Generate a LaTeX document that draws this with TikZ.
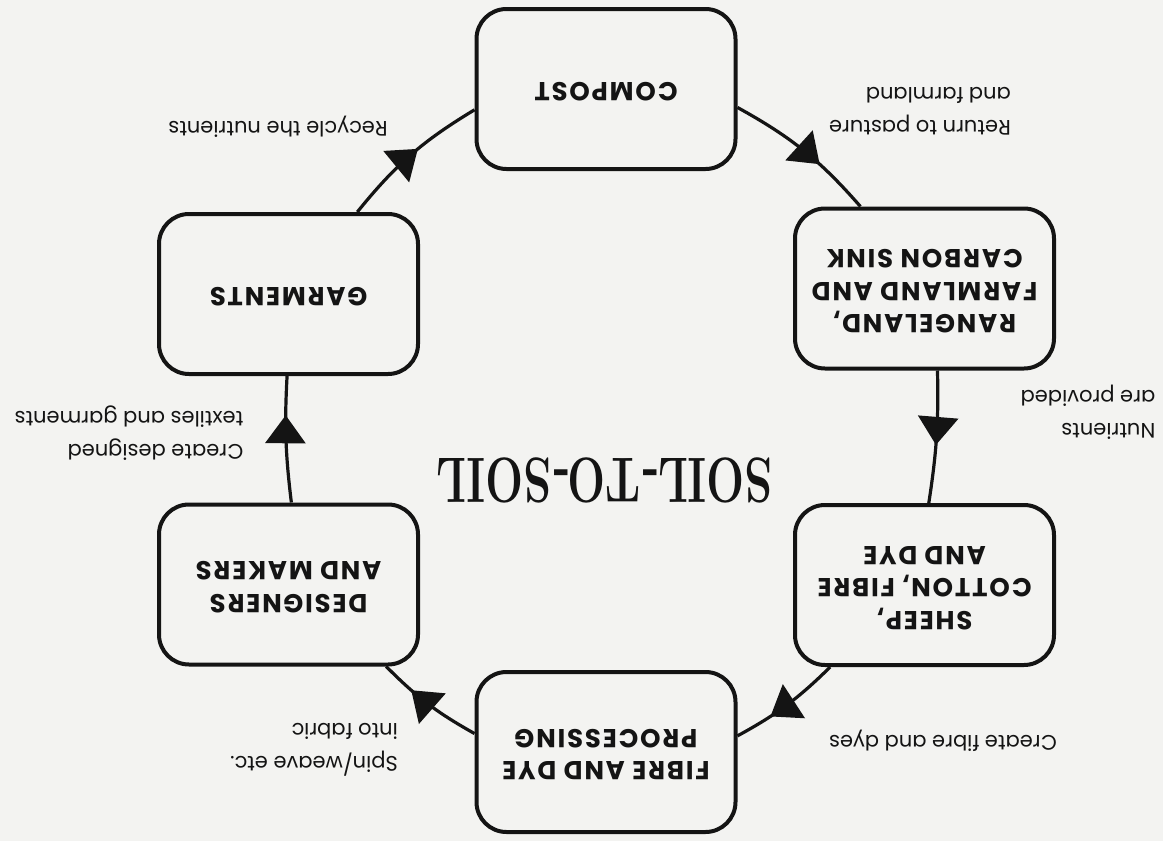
\documentclass[tikz,border=0pt]{standalone}
\usepackage{fontspec}
\usetikzlibrary{arrows.meta,decorations.markings}
\newfontfamily\lblfont{Poppins}
\newfontfamily\boxfont{Poppins}[LetterSpace=7]
\newcommand\flipbox[1]{\rotatebox[origin=c]{180}{\begin{tabular}{@{}c@{}}#1\end{tabular}}}
\definecolor{bgcol}{RGB}{243,243,241}
\definecolor{ink}{RGB}{20,20,20}
\begin{document}
\begin{tikzpicture}[x=1pt,y=-1pt,
  stage/.style={draw=ink, line width=4pt, rounded corners=30pt, minimum width=259pt, minimum height=160pt, inner sep=0pt, font=\boxfont\bfseries\fontsize{26}{32.5}\selectfont, text=ink},
  lbl/.style={rotate=180, align=left, inner sep=0pt, font=\lblfont\fontsize{21}{33}\selectfont, text=ink},
  flow/.style={color=ink, line width=3.2pt, postaction={decorate}, decoration={markings, mark=at position #1 with {\arrow{Triangle[length=28pt,width=40pt]}}}}
]
\useasboundingbox (0,0) rectangle (1163,841);
\fill[bgcol] (0,0) rectangle (1163,841);

% stages
\node[stage] (compost)   at (606,89)     {\flipbox{COMPOST}};
\node[stage] (rangeland) at (924.5,288.5) {\flipbox{RANGELAND,\\FARMLAND AND\\CARBON SINK}};
\node[stage] (sheep)     at (924.5,585)  {\flipbox{SHEEP,\\COTTON, FIBRE\\AND DYE}};
\node[stage] (fibre)     at (606,752)    {\flipbox{FIBRE AND DYE\\PROCESSING}};
\node[stage] (designers) at (288.5,584.5) {\flipbox{DESIGNERS\\AND MAKERS}};
\node[stage] (garments)  at (288.5,294)  {\flipbox{GARMENTS}};

% title
\node[font=\fontsize{64}{64}\selectfont\bfseries, text=ink, inner sep=0pt] (title) at (604.5,480)
  {\rotatebox[origin=c]{180}{\scalebox{0.7}[1]{SOIL-TO-SOIL}}};

% connectors
\draw[flow=0.63] (compost.-8)    to[bend left=10] (rangeland.128);
\draw[flow=0.56] (rangeland.-81) to[bend left=5]  (sheep.87);
\draw[flow=0.67] (sheep.-139)    to[bend left=8]  (fibre.7);
\draw[flow=0.69] (fibre.172)     to[bend left=8]  (designers.-40);
\draw[flow=0.69] (designers.88)  to[bend left=5]  (garments.-91);
\draw[flow=0.56] (garments.50)   to[bend left=10] (compost.189);

% labels
\node[lbl] (l1) at (920,111)  {Return to pasture\\and farmland};
\node[lbl] (l2) at (1088,412) {Nutrients\\are provided};
\node[lbl] (l3) at (943,741)  {Create fibre and dyes};
\node[lbl] (l4) at (314,750)  {Spin/weave etc.\\into fabric};
\node[lbl] (l5) at (129,433)  {Create designed\\textiles and garments};
\node[lbl] (l6) at (278,127)  {Recycle the nutrients};
\end{tikzpicture}
\end{document}
